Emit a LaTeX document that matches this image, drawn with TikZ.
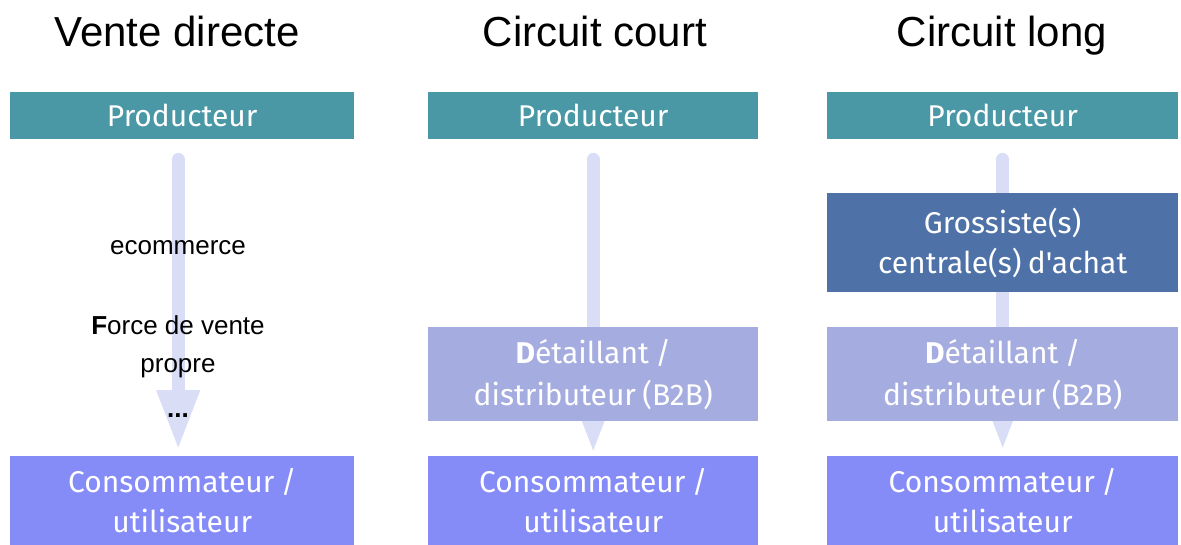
\documentclass[tikz,border=0pt]{standalone}
\usepackage{fontspec}
\setmainfont{Liberation Sans}
\newfontfamily\boxfont[WordSpace=0.8]{Fira Sans}
\usetikzlibrary{arrows.meta,backgrounds}

\definecolor{prodcol}{HTML}{4A98A6}
\definecolor{grocol}{HTML}{4E72A8}
\definecolor{detcol}{HTML}{A5ACDF}
\definecolor{conscol}{HTML}{858CF7}
\definecolor{flowcol}{HTML}{D9DDF6}

\tikzset{
  stage/.style = {anchor = north west, inner sep = 0pt, align = center,
    text = white, font = \boxfont\fontsize{30}{40}\selectfont},
  heading/.style = {anchor = base, font = \fontsize{42}{48}\selectfont},
  note/.style = {anchor = base, font = \fontsize{26}{38}\selectfont},
  flow/.style = {draw = flowcol, line width = 13pt,
    -{Triangle[width = 40pt, length = 60pt]}}
}

\begin{document}
\begin{tikzpicture}[x = 1pt, y = -1pt]
\useasboundingbox (0,0) rectangle (1181,545);

\node[heading] (t1) at (177,47) {Vente directe};
\node[heading] (t2) at (595,47) {Circuit court};
\node[heading] (t3) at (1002,47) {Circuit long};

% vente directe
\node[stage, fill = prodcol, minimum width = 344pt, minimum height = 47pt] (prod1) at (10,92) {Producteur};
\node[stage, fill = conscol, minimum width = 344pt, minimum height = 89pt] (cons1) at (10,456) {Consommateur /\\utilisateur};

\node[note] (ecom) at (178,255) {ecommerce};
\node[note, align = center] (force) at (178,373) {\textbf{F}orce de vente\\propre};
\node[note] (etc) at (178,417) {\textbf{...}};

% circuit court
\node[stage, fill = prodcol, minimum width = 330pt, minimum height = 47pt] (prod2) at (428,92) {Producteur};
\node[stage, fill = detcol, minimum width = 330pt, minimum height = 94pt] (det2) at (428,327) {\textbf{D}étaillant /\\[2pt]distributeur (B2B)};
\node[stage, fill = conscol, minimum width = 330pt, minimum height = 89pt] (cons2) at (428,456) {Consommateur /\\utilisateur};

% circuit long
\node[stage, fill = prodcol, minimum width = 351pt, minimum height = 47pt] (prod3) at (827,92) {Producteur};
\node[stage, fill = grocol, minimum width = 351pt, minimum height = 99pt] (gro3) at (827,193) {Grossiste(s)\\centrale(s) d'achat};
\node[stage, fill = detcol, minimum width = 351pt, minimum height = 94pt] (det3) at (827,327) {\textbf{D}étaillant /\\[2pt]distributeur (B2B)};
\node[stage, fill = conscol, minimum width = 351pt, minimum height = 89pt] (cons3) at (827,456) {Consommateur /\\utilisateur};

\begin{scope}[on background layer]
\draw[flow, line cap = round] ([xshift = -4pt, yshift = -20pt]prod1.south) -- ([xshift = -4pt, yshift = 6pt]cons1.north);
\draw[flow, line cap = round] ([yshift = -20pt]prod2.south) -- ([yshift = 3pt]cons2.north);
\draw[flow, line cap = round] ([yshift = -20pt]prod3.south) -- ([yshift = 6pt]cons3.north);
\end{scope}
\end{tikzpicture}
\end{document}
